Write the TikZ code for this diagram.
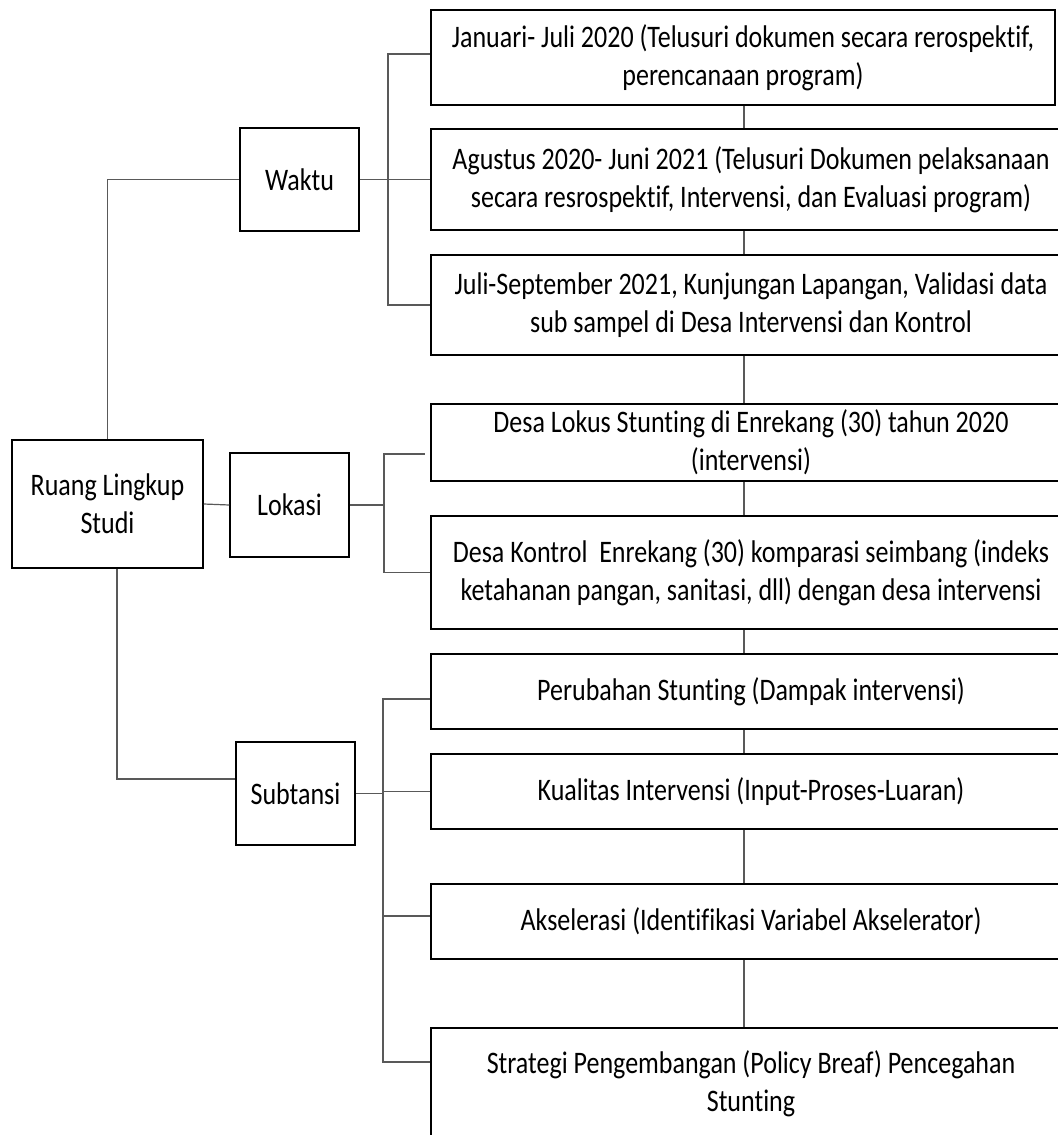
\documentclass[tikz,border=0pt]{standalone}
\usepackage{fontspec}
\setmainfont{Carlito}[FakeStretch=0.83, Ligatures=NoCommon]
\newdimen\px
\px=0.75pt
\tikzset{
  box/.style={draw=black, line width=1.5\px, align=center, inner sep=0pt, font=\fontsize{23.5}{28.5}\selectfont},
  conn/.style={draw=black!65, line width=1.2\px},
}
\begin{document}
\begin{tikzpicture}[x=0.75pt, y=-0.75pt]
\useasboundingbox (0,0) rectangle (1057,1135);
% left column
\node[box, minimum width=191\px, minimum height=128\px] (R) at (107.5,504) {Ruang Lingkup\\Studi};
\node[box, minimum width=119\px, minimum height=103\px] (W) at (299.5,179.5) {Waktu};
\node[box, minimum width=119\px, minimum height=104\px] (L) at (289.5,505) {Lokasi};
\node[box, minimum width=119\px, minimum height=103\px] (S) at (295.5,793.5) {Subtansi};
% right column
\node[box, minimum width=624\px, minimum height=95\px] (b1) at (743,57.5) {Januari- Juli 2020 (Telusuri dokumen secara rerospektif,\\perencanaan program)};
\node[box, minimum width=640\px, minimum height=101\px] (b2) at (751,179.5) {Agustus 2020- Juni 2021 (Telusuri Dokumen pelaksanaan\\secara resrospektif, Intervensi, dan Evaluasi program)};
\node[box, minimum width=640\px, minimum height=100\px] (b3) at (751,305) {Juli-September 2021, Kunjungan Lapangan, Validasi data\\sub sampel di Desa Intervensi dan Kontrol};
\node[box, minimum width=640\px, minimum height=77\px] (b4) at (751,442.5) {Desa Lokus Stunting di Enrekang (30) tahun 2020\\(intervensi)};
\node[box, minimum width=640\px, minimum height=113\px] (b5) at (751,572.5) {Desa Kontrol\ \ Enrekang (30) komparasi seimbang (indeks\\ketahanan pangan, sanitasi, dll) dengan desa intervensi};
\node[box, minimum width=640\px, minimum height=75\px] (b6) at (751,691.5) {Perubahan Stunting (Dampak intervensi)};
\node[box, minimum width=640\px, minimum height=75\px] (b7) at (751,791.5) {Kualitas Intervensi (Input-Proses-Luaran)};
\node[box, minimum width=640\px, minimum height=75\px] (b8) at (751,921.5) {Akselerasi (Identifikasi Variabel Akselerator)};
\node[box, minimum width=640\px, minimum height=112\px] (b9) at (751,1084) {Strategi Pengembangan (Policy Breaf) Pencegahan\\Stunting};
% junctions
\coordinate (spine) at (744,0);
\coordinate (wj) at (388,179.5);
\coordinate (lj) at (384,505);
\coordinate (sj) at (383,793.5);
\coordinate (b4in) at (425,454);
% trunk connectors
\draw[conn] (R.north) |- (W.west);
\draw[conn] (R.east) -- (L.west);
\draw[conn] ([xshift=9.5\px]R.south) |- (S.west |- 0,779);
% Waktu
\draw[conn] (W.east) -- (wj);
\draw[conn] (wj) |- (b1.west |- 0,54);
\draw[conn] (wj) |- (b2.west);
\draw[conn] (wj) |- (b3.west);
% Lokasi
\draw[conn] (L.east) -- (lj);
\draw[conn] (lj) |- (b4in);
\draw[conn] (lj) |- (b5.west);
% Subtansi
\draw[conn] (S.east) -- (sj);
\draw[conn] (sj) |- (b6.west |- 0,699);
\draw[conn] (sj) |- (b7.west);
\draw[conn] (sj) |- (b8.west |- 0,916);
\draw[conn] (sj) |- (b9.west |- 0,1062);
% spine
\draw[conn] (b1.south -| spine) -- (b2.north -| spine);
\draw[conn] (b2.south -| spine) -- (b3.north -| spine);
\draw[conn] (b3.south -| spine) -- (b4.north -| spine);
\draw[conn] (b4.south -| spine) -- (b5.north -| spine);
\draw[conn] (b5.south -| spine) -- (b6.north -| spine);
\draw[conn] (b6.south -| spine) -- (b7.north -| spine);
\draw[conn] (b7.south -| spine) -- (b8.north -| spine);
\draw[conn] (b8.south -| spine) -- (b9.north -| spine);
\end{tikzpicture}
\end{document}
